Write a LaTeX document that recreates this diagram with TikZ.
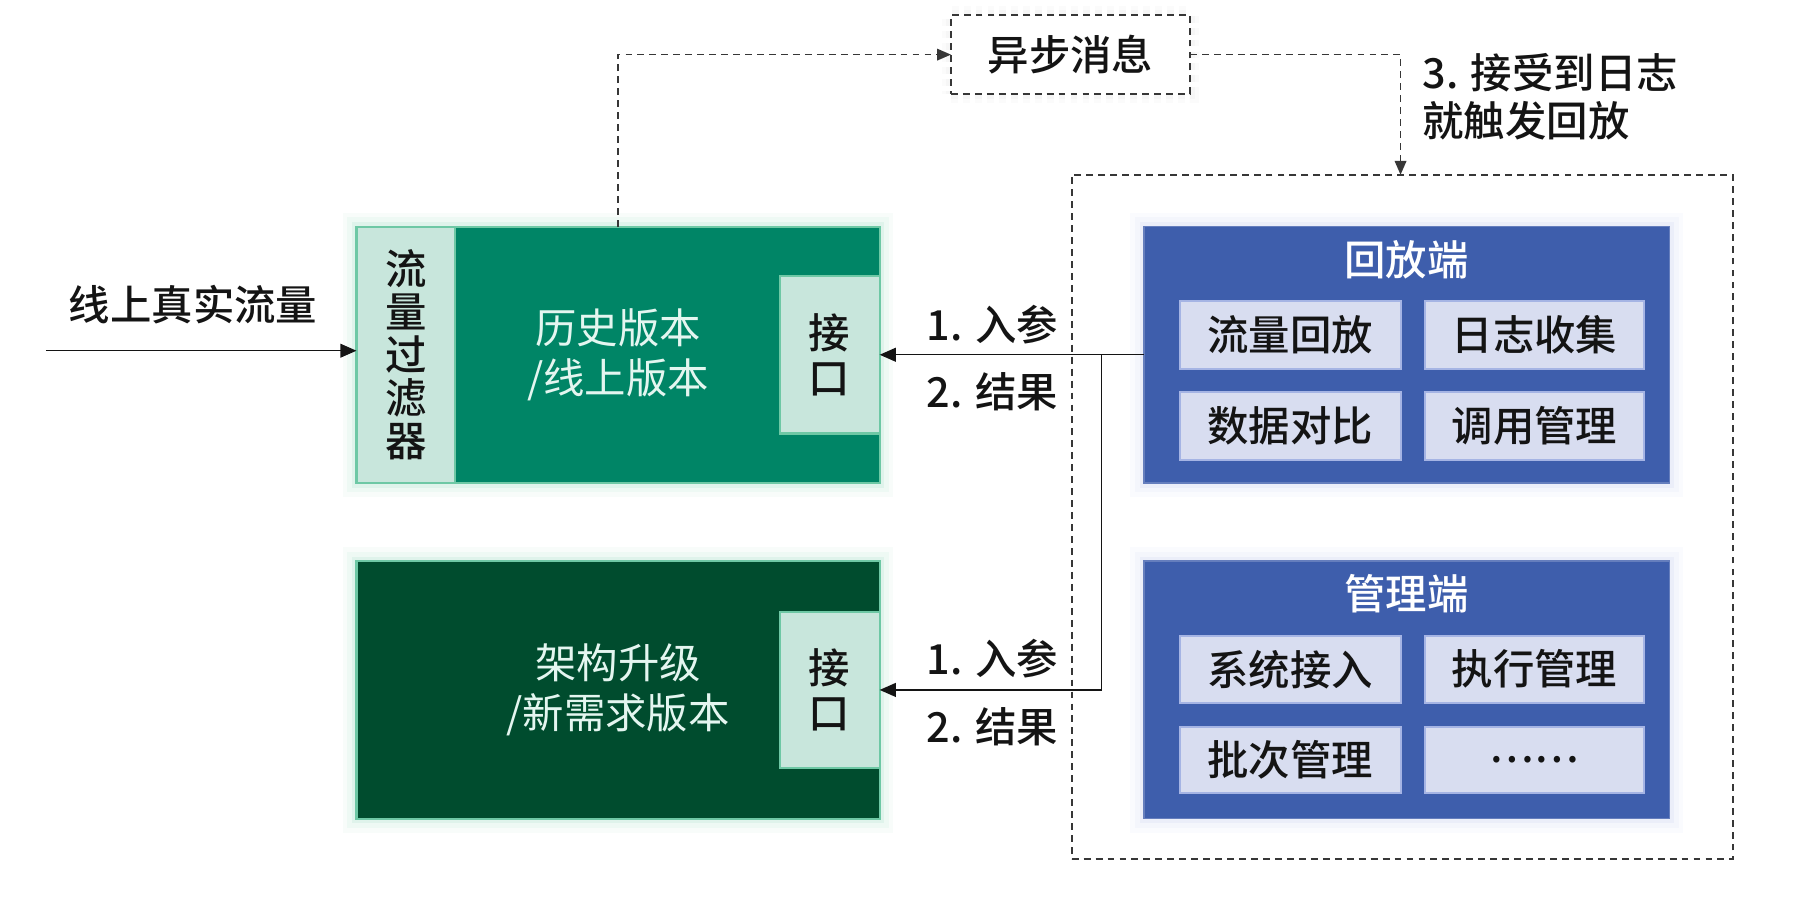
\documentclass[tikz,border=0pt]{standalone}
\usepackage{fontspec}
\setmainfont{Noto Sans CJK SC}[BoldFont={Noto Sans CJK SC Medium}]
\usetikzlibrary{arrows.meta,fit}
\definecolor{gmid}{RGB}{0,133,102}
\definecolor{gdark}{RGB}{0,76,46}
\definecolor{glight}{RGB}{200,230,220}
\definecolor{gedge}{RGB}{110,200,165}
\definecolor{gtext}{RGB}{228,246,240}
\definecolor{bmain}{RGB}{62,94,172}
\definecolor{binner}{RGB}{216,221,240}
\definecolor{bedge}{RGB}{165,180,228}
\definecolor{ink}{RGB}{20,20,20}
\begin{document}
\begin{tikzpicture}[x=0.5pt,y=-0.5pt,
  font=\fontsize{18pt}{22pt}\selectfont,
  box/.style={inner sep=0pt, outer sep=0pt},
  txt/.style={inner sep=0pt, align=center},
  gglow/.style={preaction={draw=gedge, line width=12pt, opacity=0.05},
                preaction={draw=gedge, line width=8pt, opacity=0.07},
                preaction={draw=gedge, line width=4pt, opacity=0.12}},
  bglow/.style={preaction={draw=bedge, line width=12pt, opacity=0.05},
                preaction={draw=bedge, line width=8pt, opacity=0.07},
                preaction={draw=bedge, line width=4pt, opacity=0.12}},
  gbox/.style={box, gglow, draw=gedge, line width=0.9pt},
  lbox/.style={box, fill=glight, draw=gedge, line width=0.9pt},
  bbox/.style={box, bglow, fill=bmain, draw=bmain!80!white, line width=0.6pt},
  ibox/.style={box, fill=binner, draw=bedge, line width=0.9pt},
  gtxt/.style={txt, text=gtext, font=\fontsize{18pt}{22pt}\selectfont},
  ltxt/.style={txt, text=ink, font=\fontsize{18pt}{18.6pt}\selectfont\bfseries},
  itxt/.style={txt, text=ink, font=\fontsize{18pt}{22pt}\selectfont\bfseries},
  btitle/.style={txt, text=white, font=\fontsize{18pt}{22pt}\selectfont\bfseries},
  lbl/.style={text=ink, font=\fontsize{18pt}{21pt}\selectfont\bfseries},
  dline/.style={draw=ink!85, line width=0.75pt, dash pattern=on 3pt off 2.2pt},
  arr/.style={draw=ink, line width=0.6pt, -{Triangle[length=7pt,width=6pt]}},
  darr/.style={dline, -{Triangle[length=6pt,width=5pt]}}
]
\useasboundingbox (0,0) rectangle (1568,794);

% outer dashed container
\node[box, dline, fit={(932,152)(1507,747)}] (outer) {};

% message box
\node[box, dline, fill=white,
      preaction={draw=black!10, line width=8pt, opacity=0.15},
      preaction={draw=black!10, line width=4pt, opacity=0.25},
      fit={(827,13)(1035,82)}] (msg) {};
\node[lbl, inner sep=0pt] (msgT) at (msg.center) {异步消息};

% green boxes
\node[gbox, fill=gmid, fit={(310,197)(765,420)}] (hist) {};
\node[gtxt] (histT) at (hist.center) {历史版本\\/线上版本};
\node[lbox, fit={(310,197)(396,420)}] (filt) {};
\node[ltxt] (filtT) at (filt.center) {流\\量\\过\\滤\\器};
\node[lbox, fit={(678,240)(765,377)}] (if1) {};
\node[ltxt, font=\fontsize{18pt}{19.5pt}\selectfont\bfseries] (if1T) at (if1.center) {接\\口};

\node[gbox, fill=gdark, fit={(310,488)(765,712)}] (newv) {};
\node[gtxt] (newvT) at (newv.center) {架构升级\\/新需求版本};
\node[lbox, fit={(678,532)(765,668)}] (if2) {};
\node[ltxt, font=\fontsize{18pt}{19.5pt}\selectfont\bfseries] (if2T) at (if2.center) {接\\口};

% blue boxes
\node[bbox, fit={(995,197)(1452,420)}] (replay) {};
\node[btitle] (replayT) at (1223,226) {回放端};
\node[ibox, fit={(1026,262)(1218,321)}] (r1) {};
\node[itxt] at (r1.center) (r1T) {流量回放};
\node[ibox, fit={(1239,262)(1430,321)}] (r2) {};
\node[itxt] at (r2.center) (r2T) {日志收集};
\node[ibox, fit={(1026,341)(1218,400)}] (r3) {};
\node[itxt] at (r3.center) (r3T) {数据对比};
\node[ibox, fit={(1239,341)(1430,400)}] (r4) {};
\node[itxt] at (r4.center) (r4T) {调用管理};

\node[bbox, fit={(995,488)(1452,712)}] (mgmt) {};
\node[btitle] (mgmtT) at (1223,516) {管理端};
\node[ibox, fit={(1026,553)(1218,611)}] (m1) {};
\node[itxt] at (m1.center) (m1T) {系统接入};
\node[ibox, fit={(1239,553)(1430,611)}] (m2) {};
\node[itxt] at (m2.center) (m2T) {执行管理};
\node[ibox, fit={(1026,632)(1218,690)}] (m3) {};
\node[itxt] at (m3.center) (m3T) {批次管理};
\node[ibox, fit={(1239,632)(1430,690)}] (m4) {};
\node[itxt] at (m4.center) (m4T) {……};

% incoming traffic
\node[lbl] (srcT) at (168,265) {线上真实流量};
\coordinate (src) at (40,305);
\draw[arr] (src) -- (src -| filt.west);

% async message path
\draw[darr] (hist.north) |- (msg.west);
\coordinate (xdown) at (1218,0);
\draw[darr] (msg.east) -| (outer.north -| xdown);
\node[lbl, anchor=west, align=left] (note) at (1230,84) {3. 接受到日志\\就触发回放};

% calls
\draw[arr] (replay.west) -- (if1.east);
\coordinate (jn) at (958,308.5);
\draw[arr] (jn) |- (if2.east);

\node[lbl] (p1) at (863,282) {1. 入参};
\node[lbl] (q1) at (863,341) {2. 结果};
\node[lbl] (p2) at (863,573) {1. 入参};
\node[lbl] (q2) at (863,632) {2. 结果};
\end{tikzpicture}
\end{document}
